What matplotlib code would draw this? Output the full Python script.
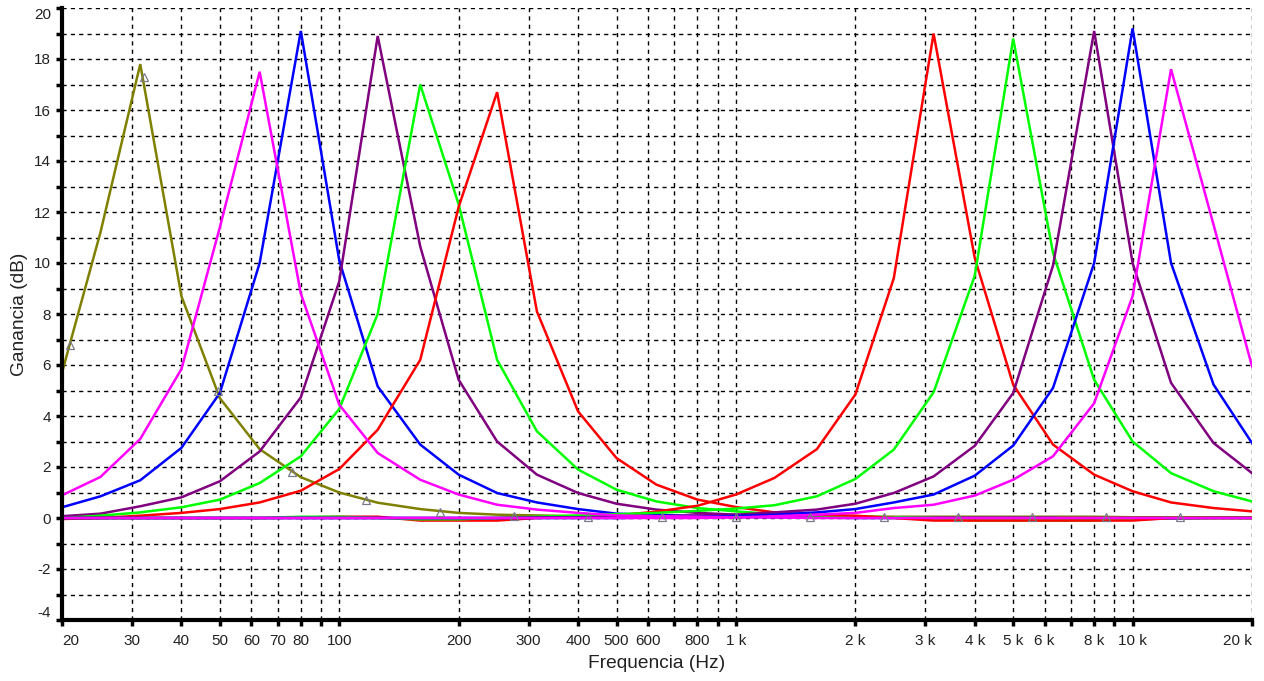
import matplotlib
matplotlib.use('Agg')
import matplotlib.pyplot as plt
from matplotlib.ticker import FixedLocator, FixedFormatter, NullFormatter

plt.rcParams['font.family'] = ['Liberation Sans', 'DejaVu Sans']
plt.rcParams['axes.unicode_minus'] = False

# 1/3-octave sample frequencies (Hz)
freqs = [20, 25, 31.5, 40, 50, 63, 80, 100, 125, 160, 200, 250, 315, 400, 500,
         630, 800, 1000, 1250, 1600, 2000, 2500, 3150, 4000, 5000, 6300, 8000,
         10000, 12500, 16000, 20000]

# gain curves (dB) for each boosted band
olive_31 = [5.7, 11.2, 17.8, 8.7, 4.7, 2.7, 1.6, 1.0, 0.6, 0.35, 0.2, 0.13, 0.1, 0.07,
            0.05, 0.05, 0.05, 0.05, 0.05, 0.05, 0.05, 0.05, 0.05, 0.05, 0.05, 0.05,
            0.05, 0.03, 0.03, 0.03, 0.03]
magenta_63 = [0.89, 1.61, 3.1, 5.84, 11.4, 17.5, 8.8, 4.44, 2.55, 1.5, 0.92, 0.52, 0.33,
              0.2, 0.1, 0.07, 0.05, 0.03, 0.02, 0.0, 0.0, 0.0, 0.0, 0.0, 0.0, 0.0, 0.0,
              0.0, 0.0, 0.0, 0.0]
blue_80 = [0.42, 0.85, 1.48, 2.75, 4.9, 10.0, 19.1, 10.1, 5.16, 2.88, 1.7, 0.98, 0.61,
           0.35, 0.17, 0.12, 0.08, 0.05, 0.03, 0.02, 0.0, 0.0, 0.0, 0.0, 0.0, 0.0,
           -0.05, -0.05, -0.02, 0.0, 0.0]
purple_125 = [0.07, 0.17, 0.46, 0.81, 1.44, 2.61, 4.73, 9.28, 18.9, 10.65, 5.42, 3.0,
              1.7, 0.98, 0.56, 0.33, 0.2, 0.13, 0.09, 0.05, 0.03, 0.02, 0.0, 0.0, 0.0,
              0.0, 0.0, 0.0, 0.0, 0.0, 0.0]
green_160 = [0.0, 0.09, 0.22, 0.42, 0.72, 1.37, 2.42, 4.28, 8.0, 17.0, 12.3, 6.2, 3.4,
             1.9, 1.11, 0.65, 0.39, 0.26, 0.15, 0.1, 0.06, 0.03, 0.0, -0.1, -0.1, -0.1,
             -0.1, -0.05, 0.0, 0.0, 0.0]
red_250 = [-0.04, 0.0, 0.09, 0.2, 0.35, 0.61, 1.07, 1.92, 3.46, 6.2, 12.2, 16.7, 8.1,
           4.18, 2.35, 1.31, 0.72, 0.43, 0.22, 0.13, 0.09, 0.0, -0.1, -0.1, -0.1, -0.1,
           -0.1, -0.1, 0.0, 0.0, 0.0]
red_3150 = [0.0, 0.0, 0.0, 0.0, 0.0, 0.0, 0.02, 0.05, 0.05, -0.1, -0.1, -0.1, 0.0, 0.05,
            0.1, 0.25, 0.48, 0.92, 1.57, 2.7, 4.84, 9.4, 19.0, 10.2, 5.23, 2.88, 1.7,
            1.05, 0.61, 0.39, 0.26]
green_5000 = [0.0, 0.0, 0.0, 0.0, 0.0, 0.0, 0.05, 0.05, 0.0, -0.05, -0.05, 0.0, 0.05,
              0.1, 0.15, 0.2, 0.28, 0.37, 0.5, 0.85, 1.53, 2.68, 4.93, 9.5, 18.8, 10.4,
              5.42, 3.0, 1.76, 1.05, 0.65]
purple_8000 = [0.0, 0.0, 0.0, 0.0, 0.0, 0.0, 0.0, 0.0, 0.0, 0.0, 0.0, 0.0, 0.02, 0.03,
               0.05, 0.07, 0.1, 0.13, 0.22, 0.33, 0.56, 0.98, 1.63, 2.83, 4.9, 9.9,
               19.1, 10.0, 5.3, 2.94, 1.76]
blue_10000 = [0.0, 0.0, 0.0, 0.0, 0.0, 0.0, 0.0, 0.0, 0.0, 0.0, 0.0, 0.0, 0.0, 0.0, 0.0,
              0.02, 0.05, 0.08, 0.13, 0.22, 0.35, 0.61, 0.92, 1.66, 2.84, 5.1, 10.0,
              19.2, 10.0, 5.23, 2.94]
magenta_12500 = [0.0, 0.0, 0.0, 0.0, 0.0, 0.0, 0.0, 0.0, 0.0, 0.0, 0.0, 0.0, 0.0, 0.0,
                 0.0, 0.0, 0.0, 0.02, 0.07, 0.13, 0.2, 0.39, 0.52, 0.88, 1.5, 2.42, 4.5,
                 8.7, 17.6, 11.5, 5.95]

# triangle marker series
marker_freqs = [20.95, 32.2, 49.5, 76.0, 116.8, 179.5, 275.8, 423.7, 650.9, 1000,
                1537, 2362, 3629, 5576, 8566, 13160]
marker_vals = [6.8, 17.3, 5.0, 1.8, 0.7, 0.25, 0.09, 0.04, 0.03, 0.03, 0.03, 0.03,
               0.03, 0.03, 0.03, 0.03]

x_major = [20, 30, 40, 50, 60, 70, 80, 100, 200, 300, 400, 500, 600, 800, 1000, 2000,
           3000, 4000, 5000, 6000, 8000, 10000, 20000]
x_major_labels = ['20', '30', '40', '50', '60', '70', '80', '100', '200', '300', '400',
                  '500', '600', '800', '1 k', '2 k', '3 k', '4 k', '5 k', '6 k', '8 k',
                  '10 k', '20 k']
x_minor = [90, 700, 900, 7000, 9000]
y_major = [-4, -2, 0, 2, 4, 6, 8, 10, 12, 14, 16, 18, 20]
y_minor = [-3, -1, 1, 3, 5, 7, 9, 11, 13, 15, 17, 19]

fig = plt.figure(figsize=(12.64, 6.81), dpi=100)
ax = fig.add_axes([62 / 1264, 1 - 620 / 681, (1252 - 62) / 1264, (620 - 8) / 681])

curves = [
    (olive_31, '#808000'),
    (blue_80, '#0000FF'),
    (purple_125, '#800080'),
    (green_160, '#00FF00'),
    (red_250, '#FF0000'),
    (red_3150, '#FF0000'),
    (green_5000, '#00FF00'),
    (purple_8000, '#800080'),
    (blue_10000, '#0000FF'),
    (magenta_63, '#FF00FF'),
    (magenta_12500, '#FF00FF'),
]
for vals, col in curves:
    ax.plot(freqs, vals, color=col, lw=1.8, zorder=3, solid_joinstyle='miter')

ax.plot(marker_freqs, marker_vals, linestyle='none', marker='^', markersize=6,
        markerfacecolor='none', markeredgecolor='#7a7a8a', markeredgewidth=0.9, zorder=4)

ax.set_xscale('log')
ax.set_xlim(20, 20000)
ax.set_ylim(-4, 20)

ax.xaxis.set_major_locator(FixedLocator(x_major))
ax.xaxis.set_major_formatter(FixedFormatter(x_major_labels))
ax.xaxis.set_minor_locator(FixedLocator(x_minor))
ax.xaxis.set_minor_formatter(NullFormatter())
ax.yaxis.set_major_locator(FixedLocator(y_major))
ax.yaxis.set_minor_locator(FixedLocator(y_minor))

ax.grid(True, which='both', color='black', linestyle=(0, (3, 3)), linewidth=1.0, zorder=1)
ax.set_axisbelow(True)

for s in ['top', 'right']:
    ax.spines[s].set_visible(False)
for s in ['left', 'bottom']:
    ax.spines[s].set_linewidth(3)
    ax.spines[s].set_color('black')
    ax.spines[s].set_zorder(5)

ax.tick_params(axis='both', which='both', direction='out', length=4, width=2.5,
               color='black', labelsize=11, labelcolor='#222222')
ax.tick_params(axis='x', pad=6)
ax.tick_params(axis='y', pad=4)

ylabels = ax.get_yticklabels()
ylabels[-1].set_va('top')
ylabels[0].set_va('bottom')
xlabels = ax.get_xticklabels()
xlabels[0].set_ha('left')
xlabels[-1].set_ha('right')

ax.set_xlabel('Frequencia (Hz)', fontsize=13.8, color='#222222', labelpad=5)
ax.set_ylabel('Ganancia (dB)', fontsize=13.8, color='#222222', labelpad=4)

fig.savefig('out.png', dpi=100)
